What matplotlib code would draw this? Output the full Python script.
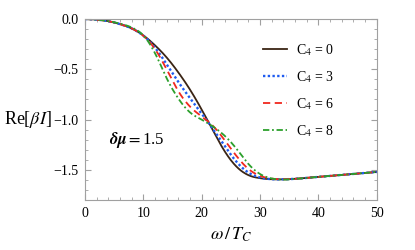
import numpy as np
import matplotlib.pyplot as plt
from matplotlib.ticker import MultipleLocator

plt.rcParams['font.family'] = ['Liberation Serif', 'DejaVu Serif']
plt.rcParams['mathtext.fontset'] = 'stix'

# values
W = [0, 2, 4, 6, 8, 10, 12, 14, 16, 18, 20, 22, 24, 26, 28, 30, 32, 34, 36, 40, 45, 50]
RE_C0 = [0, -0.005, -0.02, -0.05, -0.09, -0.16, -0.26, -0.38, -0.53, -0.70, -0.90, -1.12,
         -1.33, -1.48, -1.56, -1.585, -1.595, -1.595, -1.59, -1.57, -1.545, -1.52]
RE_C3 = [0, -0.005, -0.02, -0.05, -0.09, -0.16, -0.28, -0.45, -0.63, -0.79, -0.94, -1.10,
         -1.27, -1.43, -1.535, -1.58, -1.595, -1.595, -1.59, -1.57, -1.545, -1.52]
RE_C6 = [0, -0.005, -0.02, -0.05, -0.09, -0.16, -0.29, -0.50, -0.73, -0.88, -0.97, -1.06,
         -1.21, -1.37, -1.50, -1.565, -1.59, -1.595, -1.59, -1.57, -1.545, -1.52]
RE_C8 = [0, -0.005, -0.02, -0.045, -0.08, -0.15, -0.33, -0.60, -0.80, -0.94, -1.00, -1.07,
         -1.16, -1.29, -1.45, -1.55, -1.59, -1.60, -1.59, -1.57, -1.545, -1.52]

LABELS = ['C$_4$ = 0', 'C$_4$ = 3', 'C$_4$ = 6', 'C$_4$ = 8']


def smooth(xs, ys):
    x = np.linspace(xs[0], xs[-1], 501)
    y = np.interp(x, xs, ys)
    k = np.ones(21) / 21
    y = np.convolve(np.pad(y, 10, mode='edge'), k, mode='valid')
    y[0] = 0
    return x, y


def main():
    fig = plt.figure(figsize=(4.15, 2.5), dpi=100)
    ax = fig.add_axes([0.205, 0.2, 0.703, 0.724])

    styles = [
        ('#3a2414', '-', 1.3),
        ('#1f5cf0', (0, (1, 1)), 1.7),
        ('#f0281e', (0, (4, 2.5)), 1.3),
        ('#2ca02c', (0, (3.5, 1.5, 1, 1.5)), 1.3),
    ]
    for ys, (c, ls, lw), lab in zip([RE_C0, RE_C3, RE_C6, RE_C8], styles, LABELS):
        x, y = smooth(W, ys)
        ax.plot(x, y, color=c, ls=ls, lw=lw, label=lab)

    ax.set_xlim(0, 50)
    ax.set_ylim(-1.8, 0)
    ax.xaxis.set_major_locator(MultipleLocator(10))
    ax.xaxis.set_minor_locator(MultipleLocator(2))
    ax.yaxis.set_minor_locator(MultipleLocator(0.1))
    ax.set_yticks([0, -0.5, -1.0, -1.5])
    ax.set_yticklabels(['0.0', '\u22120.5', '\u22121.0', '\u22121.5'])
    ax.tick_params(which='both', direction='in', top=True, right=True,
                   color='#a0a0a0', labelsize=10, pad=5)
    ax.tick_params(which='major', length=4)
    ax.tick_params(which='minor', length=2)
    for s in ax.spines.values():
        s.set_color('#a0a0a0')
        s.set_linewidth(0.8)

    ax.set_xlabel(r'$\omega\,/\,T_C$', fontsize=13)
    fig.text(0.01, 0.52, r'Re[$\beta I$]', fontsize=13, va='center', ha='left')
    ax.text(8.9, -1.2, r'$\boldsymbol{\delta\mu}$$=$1.5', fontsize=12, ha='center', va='center')

    fig.legend(loc='upper left', bbox_to_anchor=(263 / 415, 1 - 42 / 250), frameon=False,
               fontsize=10, handlelength=1.7, labelspacing=0.8, handletextpad=0.7,
               borderpad=0, borderaxespad=0)

    fig.savefig('out.png', dpi=100)


if __name__ == '__main__':
    main()
